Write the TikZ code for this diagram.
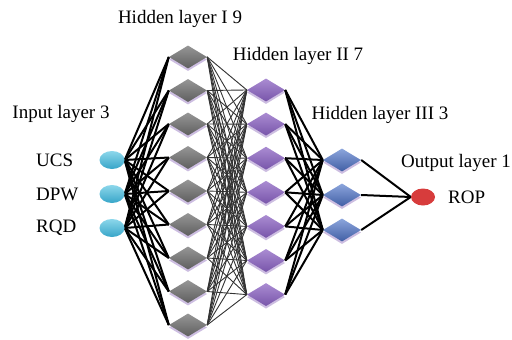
\documentclass[tikz,border=0pt]{standalone}
\usepackage{fontspec}
\setmainfont{Liberation Serif}
\usetikzlibrary{shapes.geometric,backgrounds,shadows}

\definecolor{inTop}{RGB}{140,215,235}
\definecolor{inBot}{RGB}{55,165,200}
\definecolor{grTop}{RGB}{150,150,150}
\definecolor{grBot}{RGB}{95,95,95}
\definecolor{vioTop}{RGB}{170,140,210}
\definecolor{vioBot}{RGB}{120,85,170}
\definecolor{bluTop}{RGB}{140,165,220}
\definecolor{bluBot}{RGB}{65,95,165}
\definecolor{outRed}{RGB}{215,60,60}
\definecolor{rim}{RGB}{205,190,225}

\begin{document}
\begin{tikzpicture}[x=1pt,y=-1pt,
    every node/.style={font=\fontsize{19}{21}\selectfont},
    lbl/.style={inner sep=0pt},
    unit/.style={diamond, minimum width=38pt, minimum height=23pt, inner sep=0pt,
      drop shadow={shadow xshift=0pt, shadow yshift=-2.5pt, opacity=1, fill=rim}},
    hidA/.style={unit, top color=grTop, bottom color=grBot},
    hidB/.style={unit, top color=vioTop, bottom color=vioBot},
    hidC/.style={unit, top color=bluTop, bottom color=bluBot},
    inp/.style={ellipse, minimum width=25pt, minimum height=18pt, inner sep=0pt,
      top color=inTop, bottom color=inBot},
    outp/.style={ellipse, minimum width=24pt, minimum height=17pt, inner sep=0pt, fill=outRed},
    heavy/.style={line width=2pt, black},
    light/.style={line width=0.9pt, black!80}
    ]
    \useasboundingbox (0,0) rectangle (512,340);

    % layers
    \foreach \y [count=\k] in {160,194,228}
      \node[inp] (in\k) at (112,\y) {};
    \foreach \k in {1,...,9}
      \node[hidA] (a\k) at (188,{57+(\k-1)*33.5}) {};
    \foreach \k in {1,...,7}
      \node[hidB] (b\k) at (266,{90+(\k-1)*34.1}) {};
    \foreach \k in {1,2,3}
      \node[hidC] (c\k) at (342,{160+(\k-1)*35}) {};
    \node[outp] (out) at (423,197) {};

    % labels
    \node[lbl] (tA) at (180,19) {Hidden layer I 9};
    \node[lbl] (tB) at (298,56) {Hidden layer II 7};
    \node[lbl] (tIn) at (61,114) {Input layer 3};
    \node[lbl] (tC) at (380,115) {Hidden layer III 3};
    \node[lbl] (tOut) at (456,163) {Output layer 1};
    \node[lbl, anchor=west] (ucs) at (36,160) {UCS};
    \node[lbl, anchor=west] (dpw) at (36,194) {DPW};
    \node[lbl, anchor=west] (rqd) at (36,228) {RQD};
    \node[lbl, anchor=west] (rop) at (448,197) {ROP};

    % connections
    \begin{scope}[on background layer]
      \foreach \i in {1,2,3}
        \foreach \j in {1,...,9}
          \draw[heavy] (in\i.east) -- (a\j.west);
      \foreach \i in {1,...,9}
        \foreach \j in {1,...,7}
          \draw[light] (a\i.east) -- (b\j.west);
      \foreach \i in {1,...,7}
        \foreach \j in {1,2,3}
          \draw[heavy] (b\i.east) -- (c\j.west);
      \foreach \i in {1,2,3}
        \draw[heavy] (c\i.east) -- (out.west);
    \end{scope}
\end{tikzpicture}
\end{document}
